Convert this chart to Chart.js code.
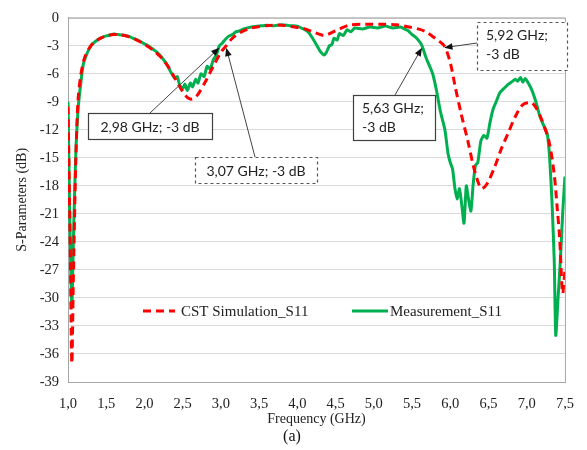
<!DOCTYPE html>
<html>
<head>
<meta charset="utf-8">
<script src="https://cdn.jsdelivr.net/npm/chart.js@4/dist/chart.umd.min.js"></script>
<style>
    html, body { margin: 0; padding: 0; background: #fff; }
    #wrap { width: 587px; height: 450px; position: relative; }
</style>
</head>
<body>
<div id="wrap"><canvas id="chart"></canvas></div>
<script>
// CST simulation S11
const simFreq = [1.00, 1.03, 1.05, 1.07, 1.10, 1.13, 1.17, 1.22, 1.30, 1.40, 1.50, 1.60, 1.70, 1.80, 1.90,
    2.00, 2.10, 2.20, 2.30, 2.40, 2.50, 2.57, 2.63, 2.70, 2.80, 2.90, 3.00, 3.07, 3.15, 3.25, 3.40,
    3.60, 3.80, 3.96, 4.10, 4.20, 4.30, 4.36, 4.45, 4.55, 4.68, 4.90, 5.10, 5.30, 5.46, 5.58, 5.68,
    5.80, 5.92, 6.00, 6.06, 6.14, 6.23, 6.30, 6.36, 6.41, 6.48, 6.58, 6.66, 6.75, 6.85, 6.95, 7.06,
    7.12, 7.19, 7.29, 7.36, 7.40, 7.43, 7.47, 7.50];
const simS11 = [-9.5, -25, -37, -28, -16, -9, -6, -4.2, -3.0, -2.3, -1.95, -1.8, -1.85, -2.05, -2.4,
    -2.85, -3.4, -4.1, -5.1, -6.5, -7.9, -8.6, -8.7, -8.2, -6.8, -5.2, -3.7, -3.0, -2.2, -1.6, -1.1,
    -0.85, -0.8, -1.0, -1.2, -1.5, -1.8, -1.9, -1.6, -1.2, -0.8, -0.7, -0.7, -0.75, -1.0, -1.2, -1.5,
    -2.2, -3.0, -4.8, -7.2, -10.2, -13.2, -15.8, -17.5, -18.3, -17.8, -16, -14.2, -12.5, -10.6, -9.3, -9.1,
    -9.6, -10.8, -13.2, -16.8, -20.5, -23.5, -29.5, -27];

// Measured S11
const measFreq = [1.00, 1.02, 1.05, 1.07, 1.10, 1.13, 1.16, 1.20, 1.25, 1.30, 1.35, 1.40, 1.45, 1.50, 1.55,
    1.60, 1.65, 1.70, 1.75, 1.80, 1.85, 1.90, 1.95, 2.00, 2.05, 2.10, 2.15, 2.20, 2.25, 2.30, 2.35,
    2.40, 2.43, 2.46, 2.50, 2.53, 2.56, 2.60, 2.63, 2.67, 2.70, 2.74, 2.78, 2.82, 2.86, 2.90, 2.94,
    2.98, 3.02, 3.06, 3.10, 3.15, 3.20, 3.25, 3.30, 3.40, 3.50, 3.60, 3.70, 3.80, 3.90, 4.00, 4.05,
    4.10, 4.15, 4.20, 4.25, 4.30, 4.35, 4.38, 4.42, 4.45, 4.48, 4.52, 4.55, 4.60, 4.65, 4.70, 4.75,
    4.85, 4.95, 5.05, 5.15, 5.25, 5.35, 5.40, 5.45, 5.50, 5.55, 5.60, 5.63, 5.68, 5.72, 5.77, 5.82,
    5.87, 5.93, 5.97, 6.00, 6.03, 6.06, 6.09, 6.12, 6.15, 6.18, 6.21, 6.24, 6.27, 6.30, 6.33, 6.36,
    6.40, 6.44, 6.48, 6.52, 6.56, 6.60, 6.65, 6.70, 6.75, 6.80, 6.85, 6.88, 6.92, 6.95, 6.98, 7.02,
    7.07, 7.12, 7.17, 7.22, 7.27, 7.30, 7.33, 7.36, 7.38, 7.41, 7.44, 7.47, 7.50];
const measS11 = [-9, -20, -31, -24, -15, -10, -7.5, -5, -3.8, -3.0, -2.6, -2.3, -2.1, -1.95, -1.85,
    -1.75, -1.8, -1.85, -1.9, -2.0, -2.2, -2.35, -2.55, -2.8, -3.0, -3.3, -3.6, -4.0, -4.5, -5.1, -5.9,
    -6.5, -6.3, -7.2, -7.6, -7.1, -7.8, -7.0, -7.4, -6.6, -7.0, -6.0, -6.3, -5.2, -5.5, -4.5, -4.0,
    -3.0, -2.7, -2.3, -2.0, -1.8, -1.5, -1.4, -1.2, -1.0, -0.9, -0.8, -0.85, -0.75, -0.85, -0.9, -1.1,
    -1.3, -1.6, -2.2, -2.9, -3.6, -4.0, -3.7, -3.0, -2.9, -2.2, -2.4, -1.7, -1.9, -1.3, -1.5, -1.1,
    -1.2, -1.0, -1.1, -0.9, -1.1, -1.0, -1.2, -1.4, -1.8, -2.1, -2.6, -3.0, -4.2, -5.0, -6.0, -7.8,
    -10, -12, -14.5, -15.5, -16.2, -18.2, -19.4, -18.3, -20, -22, -18, -19.5, -20.7, -17.8, -15.8, -15.5,
    -13.2, -12.6, -12.9, -11.2, -9.8, -9.0, -8.0, -7.6, -7.2, -6.9, -6.6, -6.8, -6.4, -6.9, -6.5, -7.0,
    -7.8, -9.0, -10.5, -11.5, -12.5, -15, -19.6, -26, -34, -30, -26, -21, -17];

const xTicks = [1.0, 1.5, 2.0, 2.5, 3.0, 3.5, 4.0, 4.5, 5.0, 5.5, 6.0, 6.5, 7.0, 7.5];
const yTicks = [0, -3, -6, -9, -12, -15, -18, -21, -24, -27, -30, -33, -36, -39];

// -3 dB markers: [label lines, freq, dB]
const markers = [
    { lines: ['2,98 GHz; -3 dB'], freq: 2.98, db: -3, box: [88, 113, 124, 26], from: [150, 113], dashed: false },
    { lines: ['3,07 GHz; -3 dB'], freq: 3.07, db: -3, box: [195, 157, 122, 26], from: [255, 157], dashed: true },
    { lines: ['5,63 GHz;', '-3 dB'], freq: 5.63, db: -3, box: [353, 95, 82, 45], from: [395, 95], dashed: false },
    { lines: ['5,92 GHz;', '-3 dB'], freq: 5.92, db: -3, box: [477, 22, 90, 48], from: [477, 43], dashed: true }
];

const toPoints = (xs, ys) => xs.map((x, i) => ({ x: x, y: ys[i] }));

const serif = '"Liberation Serif", "Times New Roman", serif';
const sans = 'Lato, "Open Sans", sans-serif';

const decorPlugin = {
    id: 'decor',
    beforeDatasetsDraw(chart) {
        const { ctx, chartArea: a } = chart;
        ctx.save();
        ctx.strokeStyle = '#a6a6a6';
        ctx.lineWidth = 1;
        ctx.strokeRect(a.left + 0.5, a.top + 0.5, a.right - a.left, a.bottom - a.top);
        ctx.restore();
    },
    afterDraw(chart) {
        const { ctx, scales } = chart;
        ctx.save();

        // legend
        const ly = 311;
        const items = [
            { ds: chart.data.datasets[0], x0: 143, x1: 175, tx: 181 },
            { ds: chart.data.datasets[1], x0: 352, x1: 388, tx: 390 }
        ];
        ctx.font = '15px ' + serif;
        ctx.textBaseline = 'middle';
        items.forEach(it => {
            ctx.strokeStyle = it.ds.borderColor;
            ctx.lineWidth = 3;
            ctx.setLineDash(it.ds.borderDash || []);
            ctx.beginPath();
            ctx.moveTo(it.x0, ly);
            ctx.lineTo(it.x1, ly);
            ctx.stroke();
            ctx.setLineDash([]);
            ctx.fillStyle = '#222';
            ctx.textAlign = 'left';
            ctx.fillText(it.ds.label, it.tx, ly + 1);
        });

        // marker call-outs
        markers.forEach(m => {
            const [bx, by, bw, bh] = m.box;
            ctx.fillStyle = '#fff';
            ctx.fillRect(bx, by, bw, bh);
            ctx.strokeStyle = m.dashed ? '#555' : '#404040';
            ctx.lineWidth = 1.2;
            ctx.setLineDash(m.dashed ? [3, 3] : []);
            ctx.strokeRect(bx + 0.5, by + 0.5, bw, bh);
            ctx.setLineDash([]);

            ctx.fillStyle = '#222';
            ctx.font = '14px ' + sans;
            ctx.textBaseline = 'middle';
            if (m.lines.length === 1) {
                ctx.textAlign = 'center';
                ctx.fillText(m.lines[0], bx + bw / 2, by + bh / 2 + 1);
            } else {
                ctx.textAlign = 'left';
                m.lines.forEach((t, i) => ctx.fillText(t, bx + 9, by + 13 + i * 19));
            }

            // arrow to the -3 dB point
            const tx = scales.x.getPixelForValue(m.freq);
            const ty = scales.y.getPixelForValue(m.db) + 2;
            const [fx, fy] = m.from;
            const ang = Math.atan2(ty - fy, tx - fx);
            const hl = 9;
            ctx.strokeStyle = '#444';
            ctx.lineWidth = 1;
            ctx.beginPath();
            ctx.moveTo(fx, fy);
            ctx.lineTo(tx - Math.cos(ang) * hl * 0.8, ty - Math.sin(ang) * hl * 0.8);
            ctx.stroke();
            ctx.fillStyle = '#111';
            ctx.beginPath();
            ctx.moveTo(tx, ty);
            ctx.lineTo(tx - hl * Math.cos(ang - 0.38), ty - hl * Math.sin(ang - 0.38));
            ctx.lineTo(tx - hl * Math.cos(ang + 0.38), ty - hl * Math.sin(ang + 0.38));
            ctx.closePath();
            ctx.fill();
        });

        // sub-figure caption
        ctx.fillStyle = '#111';
        ctx.font = '16px ' + serif;
        ctx.textAlign = 'center';
        ctx.textBaseline = 'middle';
        ctx.fillText('(a)', 292, 437);
        ctx.restore();
    }
};

const chart = new Chart(document.getElementById('chart'), {
    type: 'line',
    data: {
        datasets: [
            {
                label: 'CST Simulation_S11',
                data: toPoints(simFreq, simS11),
                borderColor: '#ff0000',
                borderWidth: 3,
                borderDash: [8, 5],
                pointRadius: 0,
                tension: 0.3
            },
            {
                label: 'Measurement_S11',
                data: toPoints(measFreq, measS11),
                borderColor: '#00b050',
                borderWidth: 3,
                pointRadius: 0,
                tension: 0.2
            }
        ]
    },
    plugins: [decorPlugin],
    options: {
        responsive: true,
        maintainAspectRatio: false,
        animation: false,
        layout: { padding: { left: 0, right: 14, top: 16, bottom: 22 } },
        plugins: {
            legend: { display: false },
            tooltip: { enabled: false }
        },
        scales: {
            x: {
                type: 'linear',
                min: 1,
                max: 7.5,
                afterBuildTicks: s => { s.ticks = xTicks.map(v => ({ value: v })); },
                afterFit: s => { s.height = 46; },
                grid: { display: false, drawTicks: false },
                border: { color: '#a6a6a6' },
                ticks: {
                    color: '#222',
                    padding: 13,
                    font: { family: serif, size: 14.5 },
                    callback: v => v.toFixed(1).replace('.', ',')
                },
                title: {
                    display: true,
                    text: 'Frequency (GHz)',
                    color: '#222',
                    font: { family: serif, size: 14 },
                    padding: 0
                }
            },
            y: {
                min: -39,
                max: 0,
                afterBuildTicks: s => { s.ticks = yTicks.map(v => ({ value: v })); },
                afterFit: s => { s.width = 68; },
                grid: { color: '#d9d9d9', drawTicks: false },
                border: { color: '#a6a6a6' },
                ticks: {
                    color: '#222',
                    padding: 9,
                    font: { family: serif, size: 14.5 },
                    callback: v => String(v)
                },
                title: {
                    display: true,
                    text: 'S-Parameters (dB)',
                    color: '#222',
                    font: { family: serif, size: 14 },
                    padding: { top: 14, bottom: 4 }
                }
            }
        }
    }
});
</script>
</body>
</html>
